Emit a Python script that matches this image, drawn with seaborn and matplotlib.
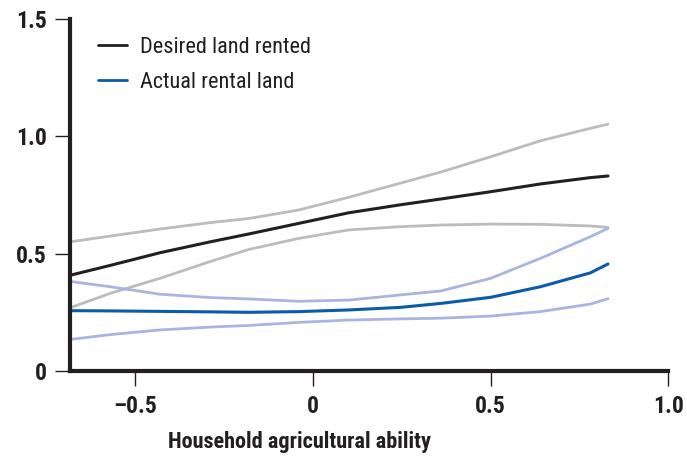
import pandas as pd
import seaborn as sns
import matplotlib.pyplot as plt

# values
ability = [-0.68, -0.57, -0.43, -0.29, -0.18, -0.04, 0.10, 0.245, 0.36, 0.50, 0.64, 0.78, 0.83]
desired = [0.409, 0.45, 0.504, 0.55, 0.584, 0.629, 0.674, 0.708, 0.733, 0.764, 0.797, 0.824, 0.831]
desired_hi = [0.551, 0.575, 0.605, 0.632, 0.650, 0.686, 0.740, 0.800, 0.848, 0.913, 0.981, 1.034, 1.052]
desired_lo = [0.271, 0.331, 0.395, 0.466, 0.518, 0.565, 0.601, 0.615, 0.622, 0.626, 0.625, 0.618, 0.612]
actual = [0.257, 0.256, 0.254, 0.252, 0.250, 0.253, 0.260, 0.271, 0.288, 0.314, 0.359, 0.418, 0.456]
actual_hi = [0.381, 0.359, 0.327, 0.313, 0.307, 0.297, 0.302, 0.324, 0.341, 0.395, 0.480, 0.572, 0.608]
actual_lo = [0.135, 0.155, 0.175, 0.187, 0.194, 0.207, 0.217, 0.222, 0.225, 0.234, 0.253, 0.285, 0.308]

xticks = [-0.5, 0, 0.5, 1.0]
xtick_labels = ['\u20130.5', '0', '0.5', '1.0']
yticks = [0, 0.5, 1.0, 1.5]
ytick_labels = ['0', '0.5', '1.0', '1.5']

sns.set_style('ticks')
plt.rcParams['font.family'] = ['Roboto Condensed', 'Liberation Sans', 'DejaVu Sans']
plt.rcParams['font.stretch'] = 'condensed'

df = pd.DataFrame({'x': ability, 'desired': desired, 'desired_hi': desired_hi,
                   'desired_lo': desired_lo, 'actual': actual,
                   'actual_hi': actual_hi, 'actual_lo': actual_lo})

fig = plt.figure(figsize=(6.87, 4.58), dpi=100)
ax = fig.add_axes([0.1026, 0.19, 0.8704, 0.7685])

gray = '#bcbcbc'
light_blue = '#a9b5e0'
black = '#231f20'
blue = '#0a5ca8'

# confidence bands first, then the estimates on top
sns.lineplot(data=df, x='x', y='desired_hi', color=gray, lw=2, ax=ax)
sns.lineplot(data=df, x='x', y='desired_lo', color=gray, lw=2, ax=ax)
sns.lineplot(data=df, x='x', y='actual_hi', color=light_blue, lw=2, ax=ax)
sns.lineplot(data=df, x='x', y='actual_lo', color=light_blue, lw=2, ax=ax)
sns.lineplot(data=df, x='x', y='desired', color=black, lw=2.2, ax=ax,
             label='Desired land rented')
sns.lineplot(data=df, x='x', y='actual', color=blue, lw=2.2, ax=ax,
             label='Actual rental land')

ax.set_xlim(-0.682, 1.0)
ax.set_ylim(0, 1.5)
ax.set_xticks(xticks)
ax.set_xticklabels(xtick_labels)
ax.set_yticks(yticks)
ax.set_yticklabels(ytick_labels)

for side in ['top', 'right']:
    ax.spines[side].set_visible(False)
for side in ['left', 'bottom']:
    ax.spines[side].set_linewidth(3)
    ax.spines[side].set_color(black)
ax.spines['left'].set_capstyle('projecting')

ax.tick_params(axis='both', direction='out', length=11, width=1, color=black,
               labelsize=17, pad=6)
for lab in ax.get_xticklabels() + ax.get_yticklabels():
    lab.set_fontweight('heavy')
    lab.set_color(black)

ax.set_ylabel('')
ax.set_xlabel('Household agricultural ability', fontsize=16, fontweight='heavy',
              color=black)
ax.xaxis.set_label_coords(0.383, -0.17)

leg = ax.legend(loc='upper left', bbox_to_anchor=(0.012, 1.005), frameon=False,
                fontsize=16, handlelength=1.3, handletextpad=0.6,
                labelspacing=0.62)
for line in leg.get_lines():
    line.set_linewidth(2)
for txt in leg.get_texts():
    txt.set_color(black)

fig.savefig('out.png', dpi=100)
